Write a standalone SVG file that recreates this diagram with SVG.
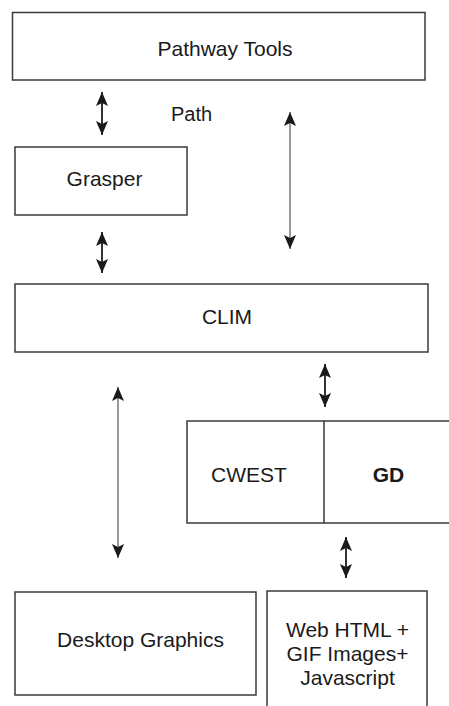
<svg xmlns="http://www.w3.org/2000/svg" width="449" height="706" viewBox="0 0 449 706">
<style>
.box{fill:#fff;stroke:#3a3a3a;stroke-width:1.5}
.ln{fill:none;stroke:#3a3a3a;stroke-width:1.5}
.t{font-family:"Liberation Sans",Arial,sans-serif;font-size:21px;fill:#1a1a1a;text-anchor:middle}
.thick{stroke:#333;stroke-width:2;fill:none}
.thin{stroke:#555;stroke-width:1.2;fill:none}
</style>
<defs>
<marker id="ah" viewBox="0 0 14 12" markerWidth="14" markerHeight="12" refX="14" refY="6" orient="auto-start-reverse" markerUnits="userSpaceOnUse">
<path d="M0,0 L14,6 L0,12 L3,6 z" fill="#1a1a1a"/>
</marker>
</defs>
<rect width="449" height="706" fill="#fff"/>
<g id="pathway-tools">
<rect class="box" x="12.5" y="12.5" width="412.5" height="67.5"/>
<text class="t" x="225" y="56">Pathway Tools</text>
</g>
<g id="path-label">
<text class="t" x="191.5" y="121" style="font-size:20px">Path</text>
</g>
<g id="grasper">
<rect class="box" x="15" y="147" width="172" height="68"/>
<text class="t" x="104.5" y="186">Grasper</text>
</g>
<g id="clim">
<rect class="box" x="15" y="284" width="413" height="68"/>
<text class="t" x="227" y="324">CLIM</text>
</g>
<g id="cwest-gd">
<path class="ln" d="M449,421 H187 V523 H449 M324,421 V523"/>
<text class="t" x="249" y="482">CWEST</text>
<text class="t" x="388.5" y="482" style="font-weight:bold">GD</text>
</g>
<g id="desktop-graphics">
<rect class="box" x="15" y="592" width="241" height="103"/>
<text class="t" x="140.5" y="647">Desktop Graphics</text>
</g>
<g id="web-html">
<path class="ln" d="M267,706 V591 H427 V706"/>
<text class="t" x="347.5" y="637">Web HTML +</text>
<text class="t" x="347.5" y="661">GIF Images+</text>
<text class="t" x="347.5" y="685">Javascript</text>
</g>
<g id="connectors">
<line class="thick" x1="102" y1="92" x2="102" y2="135" marker-start="url(#ah)" marker-end="url(#ah)"/>
<line class="thick" x1="102" y1="232" x2="102" y2="273" marker-start="url(#ah)" marker-end="url(#ah)"/>
<line class="thin" x1="290" y1="112" x2="290" y2="249" marker-start="url(#ah)" marker-end="url(#ah)"/>
<line class="thick" x1="325" y1="364" x2="325" y2="407" marker-start="url(#ah)" marker-end="url(#ah)"/>
<line class="thin" x1="118" y1="387" x2="118" y2="558" marker-start="url(#ah)" marker-end="url(#ah)"/>
<line class="thick" x1="346" y1="537" x2="346" y2="578" marker-start="url(#ah)" marker-end="url(#ah)"/>
</g>
</svg>
